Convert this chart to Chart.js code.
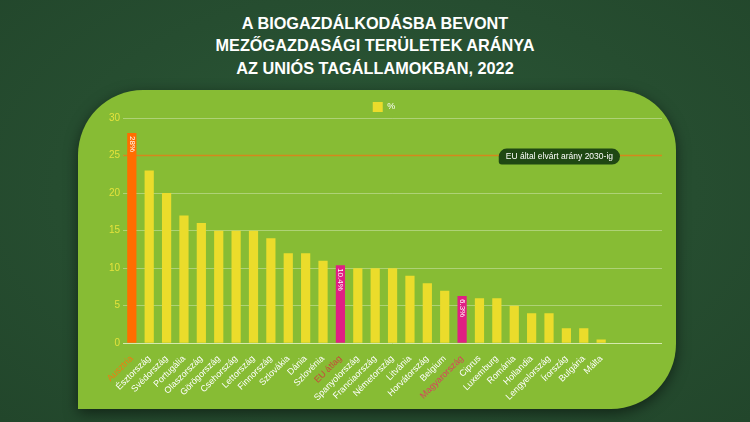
<!DOCTYPE html>
<html><head><meta charset="utf-8">
<script src="https://cdn.jsdelivr.net/npm/chart.js@4"></script>
<style>
html,body{margin:0;padding:0;}
body{width:750px;height:422px;background:#27502f;overflow:hidden;position:relative;font-family:Arial,"Liberation Sans",sans-serif;}
#bg{position:absolute;left:0;top:0;width:750px;height:422px;background:radial-gradient(ellipse at 50% 45%, #2b5937 0%, #264d30 60%, #22462b 100%);}
h1{position:absolute;top:12px;left:0;width:750px;margin:0;text-align:center;color:#fff;font-size:16.3px;line-height:22.3px;font-weight:bold;}
#panel{position:absolute;left:78px;top:90px;width:598px;height:319px;background:#87bc34;border-radius:65px 60px 65px 0;box-shadow:0 4px 14px rgba(0,0,0,0.5);}
#wrap{position:absolute;left:78px;top:90px;width:598px;height:319px;}
</style>
</head><body>
<div id="bg"></div>
<h1>A BIOGAZDÁLKODÁSBA BEVONT<br>MEZŐGAZDASÁGI TERÜLETEK ARÁNYA<br>AZ UNIÓS TAGÁLLAMOKBAN, 2022</h1>
<div id="panel"></div>
<div id="wrap"><canvas id="c"></canvas></div>
<script>
const categories = ['Ausztria','Észtország','Svédország','Portugália','Olaszország','Görögország','Csehország','Lettország','Finnország','Szlovákia','Dánia','Szlovénia','EU átlag','Spanyolország','Franciaország','Németország','Litvánia','Horvátország','Belgium','Magyarország','Ciprus','Luxemburg','Románia','Hollandia','Lengyelország','Írország','Bulgária','Málta'];
const values = [28,23,20,17,16,15,15,15,14,12,12,11,10.4,10,10,10,9,8,7,6.3,6,6,5,4,4,2,2,0.5];
const seriesLabel = '%';
const yTickValues = [0,5,10,15,20,25,30];
const targetValue = 25;
const targetLabel = 'EU által elvárt arány 2030-ig';
const orangeCategories = ['Ausztria'];
const pinkCategories = ['EU átlag','Magyarország'];
const labelledCategories = ['Ausztria','EU átlag','Magyarország'];

const COL_YELLOW = '#ebdc2b', COL_ORANGE = '#ff6d00', COL_PINK = '#e01f83';
function barColor(name){
  if (orangeCategories.includes(name)) return COL_ORANGE;
  if (pinkCategories.includes(name)) return COL_PINK;
  return COL_YELLOW;
}
function labelColor(name){
  if (name === 'Ausztria') return '#f07a12';
  if (name === 'EU átlag') return '#c9453c';
  if (name === 'Magyarország') return '#d9405e';
  return '#ffffff';
}

Chart.defaults.font.family = 'Arial, "Liberation Sans", sans-serif';

const extras = {
  id: 'extras',
  beforeLayout(chart){
    const lg = chart.legend;
    if (lg && !lg._trimmed){
      const f = lg.fit;
      lg.fit = function(){ f.call(this); this.height -= 4; };
      lg._trimmed = true;
    }
  },
  beforeDatasetsDraw(chart){
    const {ctx, chartArea, scales} = chart;
    const y = scales.y.getPixelForValue(targetValue);
    ctx.save();
    ctx.strokeStyle = '#d4881c';
    ctx.lineWidth = 1.5;
    ctx.beginPath();
    ctx.moveTo(chartArea.left, y);
    ctx.lineTo(chartArea.right, y);
    ctx.stroke();
    ctx.restore();
  },
  afterDatasetsDraw(chart){
    const {ctx, chartArea, scales} = chart;
    const meta = chart.getDatasetMeta(0);
    ctx.save();
    ctx.fillStyle = '#ffffff';
    ctx.font = '8px Arial, "Liberation Sans", sans-serif';
    ctx.textAlign = 'left';
    ctx.textBaseline = 'middle';
    categories.forEach((c,i)=>{
      if (!labelledCategories.includes(c)) return;
      const el = meta.data[i];
      ctx.save();
      ctx.translate(el.x, el.y + 3);
      ctx.rotate(Math.PI/2);
      ctx.fillText(values[i] + '%', 0, 0);
      ctx.restore();
    });
    const y = scales.y.getPixelForValue(targetValue);
    ctx.font = '8.5px Arial, "Liberation Sans", sans-serif';
    const tw = ctx.measureText(targetLabel).width;
    const right = chartArea.right - 42;
    const w = tw + 14, h = 16;
    const left = right - w;
    ctx.fillStyle = '#1f4813';
    ctx.beginPath();
    ctx.roundRect(left, y - h/2 + 1, w, h, [8,8,8,3]);
    ctx.fill();
    ctx.fillStyle = '#ffffff';
    ctx.textAlign = 'center';
    ctx.fillText(targetLabel, left + w/2, y + 1);
    ctx.restore();
  }
};

new Chart(document.getElementById('c'), {
  type: 'bar',
  data: {
    datasets: [{
      label: seriesLabel,
      data: categories.map((c,i)=>({x:i, y:values[i]})),
      backgroundColor: categories.map(barColor),
      categoryPercentage: 1,
      barPercentage: 0.53
    }]
  },
  options: {
    responsive: true,
    maintainAspectRatio: false,
    animation: false,
    layout: {padding: {left: 28, right: 14, top: 4, bottom: 4}},
    plugins: {
      legend: {
        display: true,
        position: 'top',
        labels: {
          boxWidth: 10, boxHeight: 10, padding: 8,
          color: '#ffffff',
          font: {size: 9},
          generateLabels: () => [{text: seriesLabel, fillStyle: COL_YELLOW, strokeStyle: COL_YELLOW, lineWidth: 0, fontColor: '#ffffff'}]
        }
      },
      tooltip: {enabled: false}
    },
    scales: {
      x: {
        type: 'linear',
        offset: false,
        min: -0.5,
        max: 30.5,
        afterBuildTicks: axis => { axis.ticks = categories.map((c,i)=>({value:i})); },
        afterFit: scale => { scale.paddingLeft = 0; scale.paddingRight = 0; },
        grid: {display: false},
        border: {display: false},
        ticks: {
          autoSkip: false,
          minRotation: 45,
          maxRotation: 45,
          padding: 2,
          font: {size: 9},
          color: ctx => labelColor(categories[ctx.tick ? ctx.tick.value : ctx.index]),
          callback: v => categories[v] !== undefined ? categories[v] : ''
        }
      },
      y: {
        min: 0,
        max: 30,
        afterBuildTicks: axis => { axis.ticks = yTickValues.map(v=>({value:v})); },
        border: {display: false},
        grid: {
          drawTicks: false,
          color: ctx => ctx.tick && ctx.tick.value === 0 ? '#d5e9ae' : 'rgba(255,255,255,0.33)',
          lineWidth: 1
        },
        ticks: {
          color: '#e4e23c',
          font: {size: 10},
          padding: 3
        }
      }
    }
  },
  plugins: [extras]
});
</script>
</body></html>
